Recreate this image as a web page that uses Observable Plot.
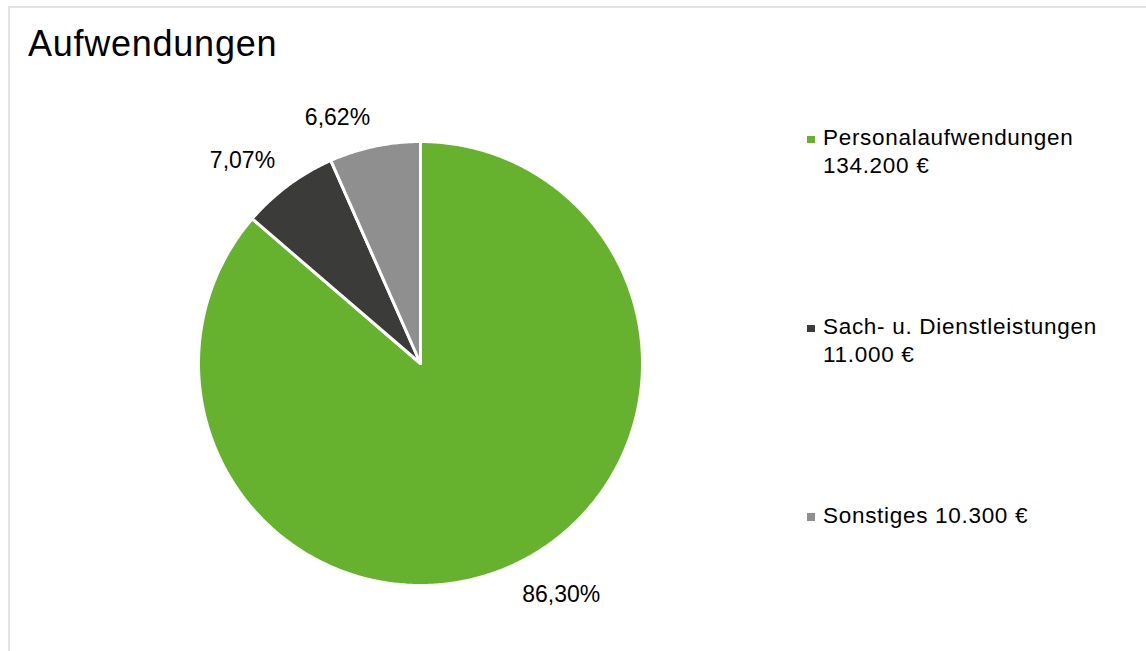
<!DOCTYPE html>
<html>
<head>
<meta charset="utf-8">
<script src="https://cdn.jsdelivr.net/npm/d3@7"></script>
<script src="https://cdn.jsdelivr.net/npm/@observablehq/plot@0.6"></script>
<style>
  html, body { margin: 0; padding: 0; background: #fff; }
  #wrap { position: relative; width: 1146px; height: 651px; overflow: hidden;
          font-family: "Liberation Sans", Arial, sans-serif; color: #000; }
  #frame { position: absolute; left: 8px; top: 6px; right: -10px; bottom: -10px;
           border-top: 2px solid #e2e2e2; border-left: 2px solid #e2e2e2; }
  #chart { position: absolute; left: 0; top: 0; }
  #title { position: absolute; left: 28px; top: 25.5px; font-size: 36px; line-height: 36px;
           letter-spacing: 0.75px; white-space: nowrap; }
  .item { position: absolute; left: 823px; width: 318px; font-size: 22.5px; line-height: 28px;
          letter-spacing: 0.7px; }
  .swatch { position: absolute; left: -16px; top: 11.5px; width: 7.5px; height: 7.5px; }
</style>
</head>
<body>
<div id="wrap">
  <div id="frame"></div>
  <div id="chart"></div>
  <div id="title">Aufwendungen</div>
  <div id="legend"></div>
</div>
<script>
// ---- data ----
const categories = ["Personalaufwendungen", "Sach- u. Dienstleistungen", "Sonstiges"];
const amounts = [134200, 11000, 10300];
const colors = ["#66b22f", "#3b3b3a", "#8f8f8f"];

// ---- derived geometry ----
const W = 1146, H = 651;
const cx = 420, cy = 363, R = 222;
const total = d3.sum(amounts);
const arcs = d3.pie().sort(null).value(d => d)(amounts);

const slicePts = [];
arcs.forEach((a, i) => {
  slicePts.push({cat: categories[i], x: 0, y: 0});
  const n = Math.max(2, Math.ceil((a.endAngle - a.startAngle) / (Math.PI / 360)));
  for (let k = 0; k <= n; k++) {
    const t = a.startAngle + (a.endAngle - a.startAngle) * k / n;
    slicePts.push({cat: categories[i], x: Math.sin(t), y: Math.cos(t)});
  }
});

const gap = 1 + 22 / R;
const labels = arcs.map((a, i) => {
  const m = (a.startAngle + a.endAngle) / 2;
  return {
    text: (amounts[i] / total * 100).toFixed(2).replace(".", ",") + "%",
    x: gap * Math.sin(m),
    y: gap * Math.cos(m),
    right: Math.sin(m) >= 0,
    up: Math.cos(m) >= 0
  };
});

const labelMark = (right, up) => Plot.text(labels.filter(d => d.right === right && d.up === up), {
  x: "x", y: "y", text: "text",
  textAnchor: right ? "start" : "end",
  lineAnchor: up ? "bottom" : "top",
  fontSize: 23, fill: "#000",
  fontFamily: "Liberation Sans, Arial, sans-serif",
  style: "letter-spacing:0.8px"
});

const chart = Plot.plot({
  width: W, height: H,
  margin: 0,
  x: {domain: [-1, 1], range: [cx - R, cx + R], axis: null},
  y: {domain: [-1, 1], range: [cy + R, cy - R], axis: null},
  color: {domain: categories, range: colors},
  style: {background: "transparent", overflow: "visible"},
  marks: [
    Plot.line(slicePts, {
      x: "x", y: "y", z: "cat", fill: "cat",
      stroke: "#fff", strokeWidth: 3, strokeLinejoin: "round",
      curve: "linear-closed"
    }),
    labelMark(true, true), labelMark(true, false),
    labelMark(false, true), labelMark(false, false)
  ]
});
document.getElementById("chart").appendChild(chart);

// ---- legend (HTML) ----
const fmt = d3.formatLocale({decimal: ",", thousands: ".", grouping: [3], currency: ["", " €"]}).format(",");
const legend = document.getElementById("legend");
const tops = [124.2, 313.2, 501.6];
categories.forEach((c, i) => {
  const div = document.createElement("div");
  div.className = "item";
  div.style.top = tops[i] + "px";
  const sw = document.createElement("span");
  sw.className = "swatch";
  sw.style.background = colors[i];
  div.appendChild(sw);
  div.appendChild(document.createTextNode(c + " " + fmt(amounts[i]) + "\u00a0€"));
  legend.appendChild(div);
});
</script>
</body>
</html>
